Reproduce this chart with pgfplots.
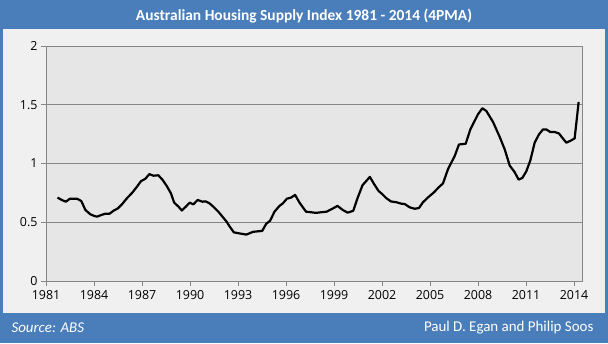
\documentclass[border=0pt]{standalone}
\usepackage{pgfplots}
\pgfplotsset{compat=1.18}
\usepackage{pgfplotstable}
\usepackage{fontspec}
\setmainfont{Carlito}
\newfontfamily\tickfont{Open Sans}
\definecolor{frameblue}{HTML}{4A7EBB}
\definecolor{panel}{HTML}{F0F0F0}
\definecolor{plotbg}{HTML}{E6E6E6}
\definecolor{gridc}{HTML}{868686}
\pgfplotstableread{
year val
1981.72 0.710
1981.98 0.690
1982.24 0.675
1982.49 0.700
1982.72 0.700
1982.95 0.700
1983.21 0.680
1983.46 0.605
1983.77 0.568
1984.02 0.553
1984.19 0.548
1984.46 0.562
1984.71 0.573
1984.98 0.573
1985.22 0.598
1985.49 0.618
1985.76 0.655
1986.05 0.703
1986.38 0.750
1986.67 0.800
1986.94 0.850
1987.21 0.870
1987.46 0.910
1987.71 0.896
1988.02 0.900
1988.29 0.860
1988.54 0.810
1988.81 0.746
1989.01 0.667
1989.28 0.633
1989.49 0.600
1989.74 0.633
1989.98 0.667
1990.21 0.652
1990.48 0.690
1990.77 0.675
1990.98 0.678
1991.23 0.660
1991.50 0.627
1991.81 0.584
1992.06 0.542
1992.26 0.510
1992.49 0.462
1992.74 0.414
1993.05 0.406
1993.52 0.395
1993.93 0.418
1994.24 0.423
1994.51 0.426
1994.76 0.486
1995.01 0.514
1995.28 0.590
1995.59 0.639
1995.80 0.660
1996.05 0.700
1996.32 0.710
1996.57 0.733
1996.84 0.668
1997.25 0.590
1997.56 0.585
1997.88 0.580
1998.19 0.585
1998.54 0.590
1998.91 0.616
1999.22 0.639
1999.54 0.605
1999.85 0.582
2000.20 0.597
2000.47 0.705
2000.78 0.815
2000.99 0.847
2001.24 0.886
2001.51 0.824
2001.78 0.767
2002.02 0.739
2002.27 0.705
2002.56 0.677
2002.88 0.671
2003.21 0.658
2003.42 0.655
2003.73 0.627
2004.04 0.615
2004.31 0.621
2004.56 0.670
2004.88 0.712
2005.25 0.755
2005.56 0.800
2005.81 0.830
2006.13 0.954
2006.54 1.063
2006.81 1.162
2007.23 1.168
2007.52 1.290
2008.00 1.419
2008.27 1.470
2008.52 1.447
2008.94 1.353
2009.35 1.228
2009.67 1.120
2009.98 0.983
2010.29 0.926
2010.54 0.863
2010.77 0.877
2011.02 0.934
2011.27 1.026
2011.54 1.177
2011.81 1.248
2012.06 1.290
2012.27 1.290
2012.52 1.268
2012.79 1.268
2013.06 1.256
2013.27 1.219
2013.52 1.177
2013.83 1.197
2014.04 1.214
2014.29 1.524
}\datatable
\begin{document}
\begin{tikzpicture}[x=1bp,y=1bp]
\fill[frameblue] (-46,-62) rectangle (562,281);
\fill[panel] (-43,-32) rectangle (559,252);
\node[text=white,font=\bfseries\fontsize{15.5}{17}\selectfont] at (258,265) {Australian Housing Supply Index 1981 - 2014 (4PMA)};
\node[text=white,font=\itshape\fontsize{15}{17}\selectfont,anchor=west] at (-38,-47) {Source: ABS};
\node[text=white,font=\fontsize{15}{17}\selectfont,anchor=east] at (551,-47) {Paul D. Egan and Philip Soos};
\begin{axis}[
  at={(0,0)}, anchor=south west,
  scale only axis, width=536bp, height=235bp,
  xmin=1981, xmax=2014.5, ymin=0, ymax=2,
  xtick={1981,1984,...,2014}, ytick={0,0.5,...,2},
  axis background/.style={fill=plotbg},
  axis line style={gridc, line width=0.9bp},
  ymajorgrids, grid style={gridc, line width=0.9bp},
  tick style={gridc, line width=0.9bp},
  tick align=outside, major tick length=5bp,
  xtick pos=bottom, ytick pos=left,
  ticklabel style={font=\tickfont\fontsize{12.5}{14}\selectfont, text=black},
  /pgf/number format/1000 sep={},
  /pgf/number format/assume math mode=true,
  yticklabel style={/pgf/number format/fixed},
  xticklabel style={yshift=-1bp},
]
\addplot[black, line width=2.2bp, line join=round, no marks] table[x=year,y=val] {\datatable};
\end{axis}
\end{tikzpicture}
\end{document}
